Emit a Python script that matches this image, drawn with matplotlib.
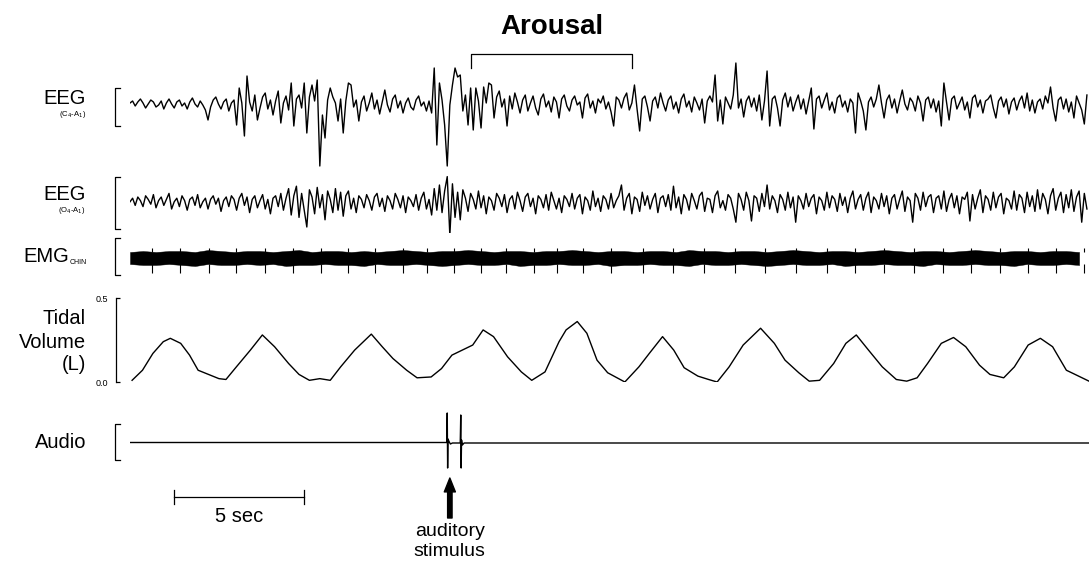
import numpy as np
import matplotlib
matplotlib.use("Agg")
import matplotlib.pyplot as plt

plt.rcParams['font.family'] = ['Liberation Sans', 'DejaVu Sans']

W, H = 1089, 564
T_END = 36.88  # seconds visible across the trace width

# ---- data ----
# EEG traces, one sample every eeg_dt seconds (arbitrary uV units, up = positive)
eeg_dt = 0.1
eeg_c4 = [
    2, 4, -1, 3, 6, 2, -3, 1, 5, 3,
    -2, 0, 4, -4, 2, 6, 1, -3, 3, 5,
    -1, 2, -4, 3, 7, 1, -2, 4, 0, -5,
    -15, -2, 5, 8, 1, -4, 3, 6, -6, 2,
    5, -20, 17, 2, -31, 29, 3, -6, 10, -15,
    -3, 8, 12, -4, 5, -10, 4, 14, -18, 2,
    9, -5, 22, -21, 6, 10, -3, 22, -28, 8,
    20, 4, 25, -61, -10, -33, 5, 17, 8, 2,
    -16, 6, -28, 4, 22, 20, -2, 5, -16, 3,
    9, -6, 2, 12, -4, 5, -9, 3, 15, 0,
    -7, 6, 10, -3, 4, -8, 2, 7, -2, -5,
    5, 9, -1, 3, -6, 4, -8, 37, -40, 22,
    5, -20, -61, 0, 20, 37, 28, 30, -6, 10,
    -20, 17, -25, 17, 4, -23, 18, 2, 22, 20,
    -13, 8, 14, -2, 6, -21, 9, -4, 12, 3,
    -8, 5, 10, -6, 2, 9, -3, -10, 6, 11,
    -2, 4, -7, 8, 3, -13, 6, 10, -1, -6,
    5, 9, 0, 3, -13, 7, 11, -3, 4, -8,
    6, 2, 9, -4, 3, -7, -21, 8, 5, -3,
    7, 12, -5, 2, 20, -4, -26, 6, 9, -2,
    -16, 4, 8, -3, 12, 2, -6, 5, 9, -4,
    3, -8, 6, 11, -2, 4, -7, 8, 2, -5,
    6, -18, 4, 9, 3, 30, -16, 5, -19, 8,
    2, -4, 10, 42, -3, 6, -12, 4, 9, -2,
    7, -6, 10, -15, 4, 34, -21, 6, 9, -3,
    -21, 5, 12, -2, 8, -6, 3, 10, -4, 6,
    -9, 4, 17, -24, 6, 9, -3, 5, 12, -5,
    3, -8, 7, 10, -2, 4, -7, 6, 2, -28,
    12, 4, -6, -25, 3, 8, -2, 6, 20, 2,
    -13, 5, 10, -3, 6, -8, 4, 15, 1, -5,
    7, 3, -6, 9, 2, -16, 5, 8, -3, 6,
    -7, 4, -21, 22, 3, -15, 6, 9, -4, 2,
    8, -5, 3, -13, 7, 10, -2, 5, -8, 4,
    6, 10, -3, -13, 4, 8, -2, 6, -9, 3,
    7, -5, 4, 9, -3, 12, -6, 5, -8, 3,
    6, -4, 9, 2, 18, -3, -16, 5, 8, -4,
    6, -7, 3, -13, 9, 2, -5, -19, 10,
]
eeg_o4 = [
    1, 4, -2, 5, 2, -3, 6, 3, -1, 7,
    -4, 2, 5, -2, 3, 8, -5, 1, 4, -3,
    6, 2, -6, 3, 5, -2, 7, -4, 1, 4,
    -5, 3, 6, -1, 4, -7, 2, 5, -3, 6,
    3, -6, 4, 8, -2, 5, -8, 3, 6, -4,
    2, 7, -5, 3, -9, 4, 6, -3, 8, -6,
    4, 12, -10, 6, 14, -12, 8, -6, -20, 11,
    5, -9, 13, -4, 7, -14, 10, 3, -8, 12,
    -6, 9, -11, 6, 10, -5, 4, -8, 6, 3,
    -4, 7, 2, -6, 5, 8, -3, 4, -7, 6,
    2, -5, 8, 3, -4, 6, -8, 5, 2, -3,
    7, -6, 4, 9, -5, 3, -10, 12, -6, 15,
    -8, 10, 22, -27, 16, -12, 9, -14, 11, 4,
    -7, 8, 3, -5, 10, -4, 6, -9, 5, 2,
    -6, 8, 4, -3, 7, -8, 3, 6, -5, 9,
    2, -7, 5, 8, -3, 4, -9, 6, 3, -4,
    7, -6, 9, 2, -5, 4, -8, 6, 3, -3,
    8, -5, 4, 7, -9, 5, 2, -6, 10, -3,
    4, -7, 6, 3, -5, 8, -4, 2, 6, 15,
    -6, 4, 8, -9, 5, 3, -7, 9, -2, 6,
    -5, 3, 8, -8, 4, 6, -3, 7, -6, 14,
    -4, 5, -9, 7, 3, -6, 8, 2, -5, 6,
    9, -7, 4, 3, -8, 6, 10, -4, 2, -6,
    7, 4, -5, -16, 8, 3, -6, 9, 2, -15,
    6, 4, -7, 8, -3, 15, -5, 6, 2, -8,
    7, 3, -6, 9, -4, 5, -16, 6, 2, -5,
    8, -3, 4, 7, -9, 5, 2, -6, 9, -4,
    6, 3, -7, 8, -2, 5, -8, 4, 10, -5,
    3, 7, -6, 4, 9, -8, 5, 2, -5, 8,
    -3, 6, -9, 4, 7, -5, 3, 10, -7, 5,
    2, -16, 8, 4, -6, 9, -3, 5, 7, -8,
    4, 6, -5, 10, -7, 3, 8, -4, 6, -9,
    5, 3, 9, -15, 7, -5, 4, 11, -8, 6,
    3, -6, 9, -4, 5, 8, -9, 4, 2, -5,
    10, -6, 7, 4, -8, 9, -3, 6, -7, 11,
    -5, 8, 3, -9, 6, 12, -6, 4, 9, -8,
    7, -4, 11, -7, 5, 10, -16, 8, -5,
]

# chin EMG envelope every emg_dt seconds, plus ECG artefact times (s)
emg_dt = 0.5
emg_upper = [6, 7, 6, 7, 7, 6, 8, 7, 6, 7, 7, 6, 7, 8, 6, 7, 7, 6, 7, 6,
             7, 8, 7, 6, 7, 7, 8, 7, 6, 7, 7, 6, 7, 7, 8, 7, 6, 7, 7, 6,
             7, 7, 6, 8, 7, 7, 6, 7, 7, 6, 7, 8, 7, 6, 7, 7, 6, 7, 8, 7,
             6, 7, 7, 6, 7, 8, 7, 6, 7, 7, 6, 7, 7, 6]
emg_lower = [-6, -7, -7, -6, -7, -8, -6, -7, -7, -6, -7, -6, -8, -7, -7, -6, -7, -7, -8, -6,
             -7, -7, -6, -7, -8, -7, -6, -7, -7, -6, -8, -7, -7, -6, -7, -7, -6, -8, -7, -7,
             -6, -7, -7, -8, -6, -7, -7, -6, -7, -8, -7, -6, -7, -7, -6, -8, -7, -7, -6, -7,
             -7, -8, -6, -7, -7, -6, -7, -7, -8, -6, -7, -7, -6, -7]
ecg_beats = [0.85, 1.92, 3.04, 4.08, 5.19, 6.27, 7.35, 8.38, 9.42, 10.5, 11.42,
             12.46, 13.5, 14.46, 15.54, 16.42, 17.42, 18.5, 19.73, 20.88, 22.08,
             23.27, 24.42, 25.62, 26.81, 27.88, 29.0, 30.15, 31.27, 32.35, 33.46,
             34.54, 35.62, 36.69]

# tidal volume (L)
tv_t = [0.08, 0.48, 0.88, 1.28, 1.55, 1.95, 2.29, 2.62, 3.02, 3.42,
        3.69, 4.09, 4.63, 5.09, 5.56, 6.10, 6.50, 6.90, 7.30, 7.70,
        8.10, 8.64, 9.28, 9.70, 10.11, 10.64, 11.04, 11.58, 11.98, 12.38,
        12.78, 13.18, 13.58, 13.98, 14.52, 15.05, 15.45, 15.96, 16.50, 16.77,
        17.20, 17.57, 17.96, 18.37, 19.03, 19.57, 19.97, 20.48, 20.91, 21.31,
        21.84, 22.25, 22.58, 23.04, 23.58, 24.25, 24.78, 25.19, 25.72, 26.12,
        26.52, 27.06, 27.53, 27.93, 28.40, 28.93, 29.47, 29.87, 30.27, 30.67,
        31.20, 31.67, 32.14, 32.67, 33.07, 33.60, 34.01, 34.54, 35.01, 35.48,
        36.01, 36.28, 36.88]
tv_v = [0.01, 0.07, 0.17, 0.24, 0.26, 0.23, 0.16, 0.07, 0.045, 0.02,
        0.015, 0.09, 0.19, 0.28, 0.21, 0.11, 0.045, 0.01, 0.02, 0.01,
        0.09, 0.19, 0.285, 0.21, 0.14, 0.07, 0.025, 0.03, 0.08, 0.16,
        0.19, 0.22, 0.31, 0.27, 0.15, 0.06, 0.01, 0.06, 0.24, 0.31,
        0.36, 0.29, 0.13, 0.055, 0.0, 0.09, 0.17, 0.27, 0.19, 0.085,
        0.035, 0.015, 0.0, 0.09, 0.22, 0.32, 0.23, 0.13, 0.055, 0.005,
        0.01, 0.11, 0.23, 0.28, 0.19, 0.09, 0.015, 0.005, 0.025, 0.11,
        0.23, 0.265, 0.21, 0.10, 0.045, 0.025, 0.09, 0.22, 0.26, 0.21,
        0.07, 0.05, 0.005]

# audio channel
audio_t = [0.0, 12.18, 12.20, 12.215, 12.23, 12.26, 12.32, 12.40, 12.70,
           12.72, 12.735, 12.75, 12.78, 12.85, 13.0, 36.88]
audio_v = [0.5, 0.5, 30, -25, 4, 2, -1, 0, 0, 28, -25, 3, -2, 0, 0, 0]

arousal = (13.12, 19.31)
stim_time = 12.3
scale_bar = (1.7, 5.0)  # start, length in s

# ---- layout (pixel based) ----
fig = plt.figure(figsize=(W / 100, H / 100), dpi=100)
LEFT, WIDTH = 130, 959
LABEL_X = 86
BIG = 14.5
SMALL = 5.5


def px_axes(top, height):
    ax = fig.add_axes([LEFT / W, 1 - (top + height) / H, WIDTH / W, height / H])
    ax.set_xlim(0, T_END)
    return ax


def label(x, y, s, **kw):
    kw.setdefault('ha', 'right')
    kw.setdefault('va', 'center')
    fig.text(x / W, 1 - y / H, s, **kw)


def bracket(ax, lo, hi):
    tr = ax.get_yaxis_transform()
    x0, x1 = -15 / WIDTH, -10 / WIDTH
    ax.plot([x1, x0, x0, x1], [hi, hi, lo, lo], transform=tr, color='k',
            lw=0.9, clip_on=False)


line_kw = dict(color='k', lw=1.0)

# EEG C4-A1
ax = px_axes(43, 124)
ax.set_ylim(-62, 62)
ax.plot(np.arange(len(eeg_c4)) * eeg_dt, eeg_c4, **line_kw)
bracket(ax, -21, 17)
ax.axis('off')
label(LABEL_X, 99, 'EEG', fontsize=BIG)
label(LABEL_X, 115, '(C$_4$-A$_1$)', fontsize=SMALL)

# EEG O4-A1
ax = px_axes(173, 60)
ax.set_ylim(-25, 25)
ax.plot(np.arange(len(eeg_o4)) * eeg_dt, eeg_o4, **line_kw)
bracket(ax, -22, 22)
ax.axis('off')
label(LABEL_X, 195, 'EEG', fontsize=BIG)
label(LABEL_X, 211, '(O$_4$-A$_1$)', fontsize=SMALL)

# EMG chin
ax = px_axes(238, 40)
ax.set_ylim(-20, 20)
emg_t = np.arange(len(emg_upper)) * emg_dt
ax.fill_between(emg_t, emg_lower, emg_upper, color='k', lw=0.3)
ax.vlines(ecg_beats, -15, -6, color='k', lw=0.8)
ax.vlines(ecg_beats, 6, 10, color='k', lw=0.8)
bracket(ax, -17, 20)
ax.axis('off')
label(LABEL_X - 17, 257, 'EMG', fontsize=BIG)
label(LABEL_X - 16, 262, 'CHIN', fontsize=5, ha='left')

# tidal volume
ax = px_axes(298, 84)
ax.set_ylim(0, 0.5)
ax.plot(tv_t, tv_v, color='k', lw=1.0)
for s in ('top', 'right', 'bottom'):
    ax.spines[s].set_visible(False)
ax.spines['left'].set_position(('outward', 10))
ax.spines['left'].set_linewidth(0.9)
ax.set_xticks([])
ax.set_yticks([0, 0.5])
ax.set_yticklabels(['0.0', '0.5'])
ax.tick_params(axis='y', direction='in', length=3, width=0.9, labelsize=6.5, pad=5.5)
ax.patch.set_visible(False)
label(LABEL_X, 319, 'Tidal', fontsize=BIG)
label(LABEL_X, 342, 'Volume', fontsize=BIG)
label(LABEL_X, 364, '(L)', fontsize=BIG)

# audio
ax = px_axes(411, 64)
ax.set_ylim(-32, 32)
ax.plot(audio_t, audio_v, **line_kw)
bracket(ax, -17, 19)
ax.axis('off')
label(LABEL_X, 443, 'Audio', fontsize=BIG)

# overlay for annotations: x in seconds, y in pixel rows
ov = px_axes(0, H)
ov.set_ylim(H, 0)
ov.axis('off')
a0, a1 = arousal
ov.plot([a0, a0, a1, a1], [68, 54, 54, 68], color='k', lw=0.9)
ov.text((a0 + a1) / 2, 27, 'Arousal', ha='center', va='center',
        fontsize=20, fontweight='bold')

s0, slen = scale_bar
ov.plot([s0, s0 + slen], [497, 497], color='k', lw=0.9)
ov.plot([s0, s0], [490, 504], color='k', lw=0.9)
ov.plot([s0 + slen, s0 + slen], [490, 504], color='k', lw=0.9)
ov.text(s0 + slen / 2, 516, '5 sec', ha='center', va='center', fontsize=BIG)

ov.annotate('', xy=(stim_time, 478), xytext=(stim_time, 518),
            arrowprops=dict(arrowstyle='simple,head_width=0.8,head_length=1.0,tail_width=0.32',
                            color='k', shrinkA=0, shrinkB=0, mutation_scale=10))
ov.text(stim_time, 532, 'auditory', ha='center', va='center', fontsize=14)
ov.text(stim_time, 552, 'stimulus', ha='center', va='center', fontsize=14)

fig.savefig('out.png', dpi=100)
